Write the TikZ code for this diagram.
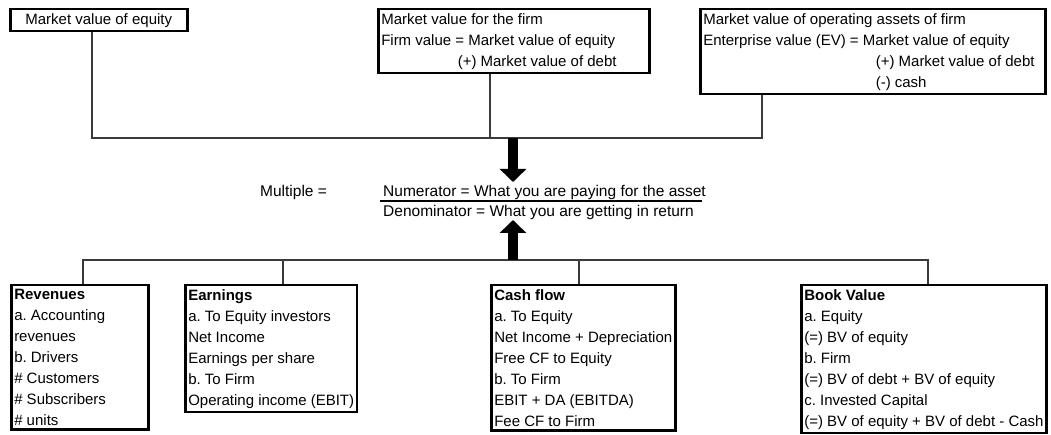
\documentclass[tikz,border=0pt]{standalone}
\usepackage{fontspec}
\setmainfont{Liberation Sans}
\usetikzlibrary{arrows.meta,positioning,calc}
\definecolor{Ink}{HTML}{000000}
\definecolor{Wire}{HTML}{3A3A3A}
\frenchspacing
\tikzset{
 box/.style={draw=Ink, line width=2.5pt, fill=white, align=flush left, anchor=north west, inner xsep=3pt, inner ysep=4pt, font=\fontsize{15}{21}\selectfont},
 wire/.style={draw=Wire, line width=1.1pt},
 bigarrow/.style={-{Triangle[width=26pt,length=13pt]}, line width=10pt, draw=Ink},
 txt/.style={inner sep=0pt, anchor=base west, font=\fontsize{15.5}{21}\selectfont}
}

\begin{document}
\frenchspacing
\begin{tikzpicture}[x=1pt,y=-1pt]
\useasboundingbox (0,0) rectangle (1051,435);
\coordinate (busT) at (513,138);
\coordinate (busB) at (513,260);
\coordinate (tipT) at (513,182);
\coordinate (tipB) at (513,220);
\node[box, align=center, minimum width=177pt] (mveq) at (9,8) {Market value of equity};
\node[box, text width=265pt] (mvfirm) at (377,8) {Market value for the firm\\Firm value = Market value of equity\\\hspace*{5.1em}(+) Market value of debt};
\node[box, text width=339pt] (mvev) at (699,8) {Market value of operating assets of firm\\Enterprise value (EV) = Market value of equity\\\hspace*{11.5em}(+) Market value of debt\\\hspace*{11.5em}(-) cash};
\node[txt] (mult) at (260,197) {Multiple =};
\node[txt] (num) at (383,197) {Numerator = What you are paying for the asset};
\node[txt] (den) at (383,217) {Denominator = What you are getting in return};
\draw[line width=1.5pt] ($(num.base west)+(-3,4)$) -- ++(322,0);
\node[box, text width=131pt] (rev) at (10,284) {\textbf{Revenues}\\a. Accounting\\revenues\\b. Drivers\\\# Customers\\\# Subscribers\\\# units};
\node[box] (earn) at (184,284) {\textbf{Earnings}\\a. To Equity investors\\Net Income\\Earnings per share\\b. To Firm\\Operating income (EBIT)};
\node[box] (cf) at (490,284) {\textbf{Cash flow}\\a. To Equity\\Net Income + Depreciation\\Free CF to Equity\\b. To Firm\\EBIT + DA (EBITDA)\\Fee CF to Firm};
\node[box] (bv) at (800,284) {\textbf{Book Value}\\a. Equity\\(=) BV of equity\\b. Firm\\(=) BV of debt + BV of equity\\c. Invested Capital\\(=) BV of equity + BV of debt - Cash};
\draw[wire] (mveq.south -| 92,0) |- (busT) -| (mvev.south -| 762,0);
\draw[wire] (mvfirm.south -| 490,0) -- (490,0 |- busT);
\draw[wire] (rev.north -| 83,0) |- (busB) -| (bv.north -| 928,0);
\draw[wire] (earn.north -| 283,0) -- (283,0 |- busB);
\draw[wire] (cf.north -| 579,0) -- (579,0 |- busB);
\draw[bigarrow] (busT) -- (tipT);
\draw[bigarrow] (busB) -- (tipB);
\end{tikzpicture}
\end{document}
